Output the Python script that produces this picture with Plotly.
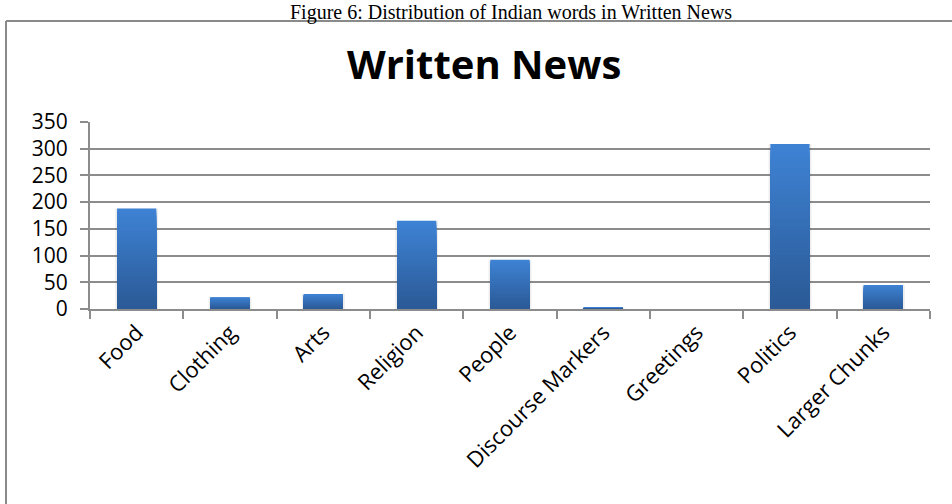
import plotly.graph_objects as go

# Counts of Indian words by category in written news
categories = ["Food", "Clothing", "Arts", "Religion", "People",
              "Discourse Markers", "Greetings", "Politics", "Larger Chunks"]
counts = [188, 22, 28, 165, 92, 2, 0, 309, 45]

y_ticks = [0, 50, 100, 150, 200, 250, 300, 350]

W, H = 952, 504
L, R, T, B = 90, 22, 122, 195   # plot area: x 90..930, y 122..309

def px_x(p):
    return (p - L) / (W - L - R)

def px_y(p):
    return (H - B - p) / (H - T - B)

top_rgb = (62, 130, 212)
bot_rgb = (43, 90, 150)
layers = 40

fig = go.Figure()

# soft shadow behind each bar
fig.add_trace(go.Bar(
    x=categories, y=counts, width=0.46,
    marker=dict(color="rgba(0,0,0,0.07)", line=dict(width=0)),
    hoverinfo="skip", showlegend=False,
))

# vertical gradient: stack progressively shorter, darker bars
for k in range(layers):
    f = 1 - k / layers
    t = k / (layers - 1)
    c = tuple(round(a + (b - a) * t) for a, b in zip(top_rgb, bot_rgb))
    fig.add_trace(go.Bar(
        x=categories, y=[v * f for v in counts], width=0.42,
        marker=dict(color="rgb(%d,%d,%d)" % c, line=dict(width=0)),
        hoverinfo="skip" if k else "x+y", showlegend=False,
    ))

grid = "#8c8c8c"

fig.update_layout(
    width=W, height=H,
    margin=dict(l=L, r=R, t=T, b=B),
    paper_bgcolor="white", plot_bgcolor="white",
    barmode="overlay",
    showlegend=False,
    font=dict(family="Open Sans, Lato, sans-serif", color="black"),
    xaxis=dict(
        type="category",
        tickangle=-45,
        tickson="boundaries",
        ticks="outside", ticklen=8, tickwidth=2, tickcolor=grid,
        showline=True, linecolor=grid, linewidth=2,
        showgrid=False,
        tickfont=dict(size=22, family="Open Sans", color="black"),
    ),
    yaxis=dict(
        range=[0, 350],
        tickvals=y_ticks,
        ticks="outside", ticklen=8, tickwidth=2, tickcolor=grid,
        ticklabelstandoff=8,
        showline=True, linecolor=grid, linewidth=2,
        showgrid=True, gridcolor=grid, gridwidth=2,
        zeroline=False,
        tickfont=dict(size=21, family="Open Sans", color="black"),
    ),
    shapes=[
        dict(type="line", xref="paper", yref="paper",
             x0=px_x(6), x1=px_x(960), y0=px_y(21), y1=px_y(21),
             line=dict(color="#8a8a8a", width=2)),
        dict(type="line", xref="paper", yref="paper",
             x0=px_x(6), x1=px_x(6), y0=px_y(21), y1=px_y(520),
             line=dict(color="#8a8a8a", width=2)),
    ],
    annotations=[
        dict(text="<b>Written News</b>", xref="paper", yref="paper",
             x=px_x(484), y=px_y(63), xanchor="center", yanchor="middle",
             showarrow=False,
             font=dict(size=40, family="Open Sans", color="black")),
        dict(text="Figure 6: Distribution of Indian words in Written News",
             xref="paper", yref="paper",
             x=px_x(511), y=px_y(0), xanchor="center", yanchor="top",
             showarrow=False, borderpad=0,
             font=dict(size=20, family="Liberation Serif", color="black")),
    ],
)

fig.write_html("out.html")
